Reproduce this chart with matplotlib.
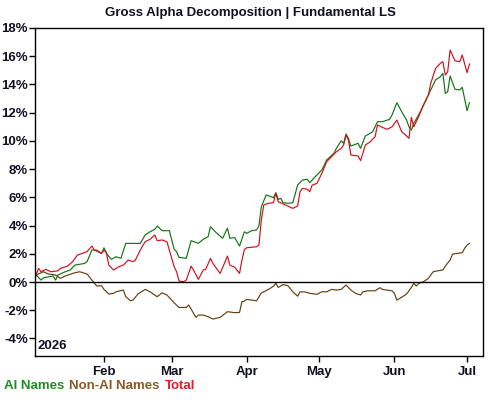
import numpy as np
import pandas as pd
import matplotlib
matplotlib.use("Agg")
import matplotlib.pyplot as plt
import matplotlib.dates as mdates
from matplotlib.ticker import FuncFormatter

plt.rcParams['font.family'] = ['Liberation Sans', 'DejaVu Sans']

# cumulative gross alpha (%)
total_dates = ["01-03", "01-05", "01-06", "01-08", "01-10", "01-13", "01-14", "01-17", "01-19", "01-21",
               "01-23", "01-25", "01-27", "01-28", "01-31", "02-01", "02-02", "02-03", "02-05", "02-07",
               "02-09", "02-11", "02-13", "02-14", "02-16", "02-18", "02-20", "02-22", "02-23", "02-25",
               "02-27", "03-02", "03-03", "03-04", "03-06", "03-07", "03-09", "03-10", "03-12", "03-14",
               "03-15", "03-17", "03-18", "03-21", "03-24", "03-25", "03-27", "03-29", "03-30", "03-31",
               "04-01", "04-05", "04-06", "04-07", "04-08", "04-10", "04-12", "04-13", "04-14", "04-15",
               "04-17", "04-20", "04-22", "04-23", "04-24", "04-26", "04-27", "04-28", "04-30", "05-02",
               "05-04", "05-06", "05-08", "05-10", "05-11", "05-12", "05-13", "05-14", "05-17", "05-18",
               "05-20", "05-22", "05-24", "05-25", "05-27", "05-29", "05-31", "06-02", "06-04", "06-06",
               "06-07", "06-08", "06-09", "06-10", "06-11", "06-13", "06-15", "06-16", "06-18", "06-20",
               "06-21", "06-22", "06-23", "06-24", "06-26", "06-28", "06-29", "07-01", "07-02"]
total_vals = [0.14, 0.97, 0.73, 0.90, 0.73, 0.80, 0.97, 1.13, 1.44, 1.91,
              2.03, 2.15, 2.55, 2.27, 2.03, 2.27, 2.08, 1.20, 0.85, 1.08,
              1.20, 1.56, 1.44, 1.56, 2.27, 2.86, 3.03, 3.33, 2.93, 2.98,
              2.86, 1.08, 0.73, 0.07, 0.02, 0.14, 1.13, 0.85, 0.19, 0.85,
              0.90, 1.68, 1.32, 0.61, 1.84, 1.20, 1.05, 0.61, 1.56, 2.30,
              2.43, 2.50, 2.62, 4.39, 5.46, 5.58, 5.62, 6.29, 5.69, 5.62,
              5.46, 5.22, 5.39, 6.40, 6.64, 6.57, 6.40, 6.87, 6.99, 7.70,
              8.53, 8.88, 9.23, 9.47, 9.71, 10.42, 10.06, 9.00, 8.93, 8.60,
              9.71, 9.94, 10.30, 11.13, 10.96, 10.82, 11.00, 11.48, 10.65, 10.35,
              10.18, 11.67, 11.00, 11.36, 11.72, 12.54, 13.25, 14.08, 15.14, 15.50,
              15.61, 14.67, 14.90, 16.44, 15.68, 15.61, 16.09, 14.83, 15.45]

ai_dates = ["01-03", "01-04", "01-06", "01-07", "01-11", "01-12", "01-13", "01-16", "01-18", "01-20",
            "01-24", "01-25", "01-27", "01-29", "01-31", "02-01", "02-02", "02-04", "02-06", "02-08",
            "02-10", "02-13", "02-16", "02-18", "02-20", "02-22", "02-23", "02-25", "02-28", "03-02",
            "03-03", "03-04", "03-07", "03-09", "03-12", "03-14", "03-16", "03-17", "03-19", "03-22",
            "03-24", "03-25", "03-27", "03-29", "03-31", "04-01", "04-03", "04-05", "04-06", "04-07",
            "04-09", "04-11", "04-12", "04-13", "04-14", "04-15", "04-16", "04-18", "04-20", "04-22",
            "04-24", "04-26", "04-27", "04-29", "05-02", "05-04", "05-07", "05-08", "05-10", "05-11",
            "05-12", "05-13", "05-14", "05-17", "05-18", "05-20", "05-23", "05-25", "05-27", "05-30",
            "05-31", "06-02", "06-04", "06-06", "06-07", "06-08", "06-09", "06-11", "06-13", "06-15",
            "06-18", "06-20", "06-21", "06-22", "06-23", "06-24", "06-26", "06-28", "06-29", "07-01",
            "07-02"]
ai_vals = [0.14, 0.50, 0.14, 0.30, 0.43, 0.14, 0.50, 0.73, 0.85, 1.20,
           1.32, 1.44, 2.27, 2.27, 2.03, 2.43, 2.03, 1.61, 1.79, 1.68,
           2.74, 2.74, 2.74, 3.33, 3.56, 3.74, 3.97, 3.64, 3.64, 2.32,
           2.15, 1.75, 1.68, 2.93, 2.74, 3.03, 3.21, 3.92, 3.56, 3.10,
           3.81, 3.10, 3.15, 2.55, 3.56, 3.45, 3.64, 3.69, 3.97, 5.34,
           6.17, 6.05, 5.97, 6.33, 5.86, 5.93, 5.62, 5.58, 5.62, 6.87,
           7.23, 7.28, 7.04, 7.42, 7.94, 8.65, 9.12, 9.47, 10.01, 9.83,
           10.49, 10.18, 9.64, 9.83, 9.47, 10.35, 10.65, 11.36, 11.36, 11.53,
           11.84, 12.71, 12.07, 11.48, 11.00, 10.77, 11.25, 11.84, 12.54, 13.25,
           14.32, 14.55, 14.79, 13.37, 13.49, 14.60, 13.66, 13.61, 13.80, 12.14,
           12.71]

nonai_dates = ["01-03", "01-04", "01-07", "01-09", "01-12", "01-14", "01-16", "01-20", "01-22", "01-25",
               "01-27", "01-29", "01-31", "02-01", "02-03", "02-05", "02-06", "02-09", "02-10", "02-12",
               "02-13", "02-15", "02-18", "02-20", "02-23", "02-25", "02-27", "03-02", "03-04", "03-07",
               "03-08", "03-11", "03-12", "03-14", "03-16", "03-18", "03-21", "03-24", "03-27", "03-29",
               "03-30", "03-31", "04-01", "04-05", "04-07", "04-10", "04-12", "04-13", "04-14", "04-16",
               "04-18", "04-20", "04-22", "04-23", "04-25", "04-27", "04-30", "05-02", "05-04", "05-06",
               "05-08", "05-10", "05-12", "05-14", "05-16", "05-18", "05-19", "05-21", "05-24", "05-26",
               "05-27", "05-31", "06-01", "06-02", "06-04", "06-06", "06-08", "06-09", "06-10", "06-11",
               "06-13", "06-15", "06-17", "06-19", "06-21", "06-22", "06-24", "06-25", "06-27", "06-29",
               "06-30", "07-01", "07-02"]
nonai_vals = [0.14, 0.50, 0.73, 0.57, 0.50, 0.26, 0.43, 0.66, 0.73, 0.57,
              0.14, -0.28, -0.26, -0.52, -0.85, -0.80, -0.69, -0.57, -1.04, -1.33,
              -1.28, -0.85, -0.52, -0.69, -1.04, -0.76, -0.92, -1.47, -1.80, -1.80,
              -1.63, -2.50, -2.34, -2.34, -2.46, -2.62, -2.50, -2.10, -2.17, -2.15,
              -1.40, -1.35, -1.23, -1.33, -0.78, -0.52, -0.30, -0.09, -0.38, -0.18,
              -0.26, -0.69, -1.00, -0.69, -0.70, -0.80, -0.87, -0.69, -0.69, -0.52,
              -0.57, -0.52, -0.21, -0.57, -0.80, -0.92, -0.69, -0.62, -0.62, -0.40,
              -0.52, -0.62, -0.80, -1.28, -1.08, -0.85, -0.38, -0.09, -0.28, -0.10,
              0.02, 0.26, 0.73, 0.80, 0.85, 1.13, 1.56, 1.98, 2.03, 2.08,
              2.39, 2.62, 2.74]

year = "2026-"
col_ai = "#127412"
col_nonai = "#643f12"
col_total = "#d0101c"
leg_ai = "#228a22"
leg_nonai = "#8a5a26"
leg_total = "#e41c28"
txt = "#111122"
fs = 9.5


def to_dates(lst):
    return pd.to_datetime([year + d for d in lst])


fig = plt.figure(figsize=(5, 4), dpi=100)
ax = fig.add_axes([0.07, 0.11, 0.896, 0.82])

ax.plot(to_dates(nonai_dates), nonai_vals, color=col_nonai, lw=0.85)
ax.plot(to_dates(ai_dates), ai_vals, color=col_ai, lw=0.85)
ax.plot(to_dates(total_dates), total_vals, color=col_total, lw=0.85)
ax.axhline(0, color='black', lw=1.0)

ax.set_xlim(pd.Timestamp("2026-01-03 12:00"), pd.Timestamp("2026-07-07 14:00"))
ax.set_ylim(-5.24, 18)
ax.set_yticks(np.arange(-4, 19, 2))
ax.yaxis.set_major_formatter(FuncFormatter(lambda v, p: "%d%%" % v))
ax.xaxis.set_major_locator(mdates.MonthLocator(bymonth=[2, 3, 4, 5, 6, 7]))
ax.xaxis.set_major_formatter(mdates.DateFormatter("%b"))

ax.tick_params(axis='both', direction='out', length=4, width=1, colors='black',
               labelsize=fs, labelcolor=txt)
for lab in ax.get_xticklabels() + ax.get_yticklabels():
    lab.set_fontweight('bold')
ax.tick_params(axis='y', pad=1)
ax.tick_params(axis='x', pad=3)
for s in ax.spines.values():
    s.set_linewidth(1.0)

ax.text(0.005, 0.012, "2026", transform=ax.transAxes, fontsize=fs, fontweight='bold',
        color=txt, ha='left', va='bottom')

fig.text(0.5, 0.968, "Gross Alpha Decomposition | Fundamental LS", ha='center', va='center',
         fontsize=fs, fontweight='bold', color=txt)

# legend as coloured words along the bottom
x = 0.008
for label, c in [("AI Names", leg_ai), ("Non-AI Names", leg_nonai), ("Total", leg_total)]:
    t = fig.text(x, 0.035, label, color=c, fontsize=fs, fontweight='bold', ha='left', va='center')
    fig.canvas.draw()
    bb = t.get_window_extent()
    x = (bb.x1 + 5) / fig.bbox.width

fig.savefig("out.png", dpi=100)
